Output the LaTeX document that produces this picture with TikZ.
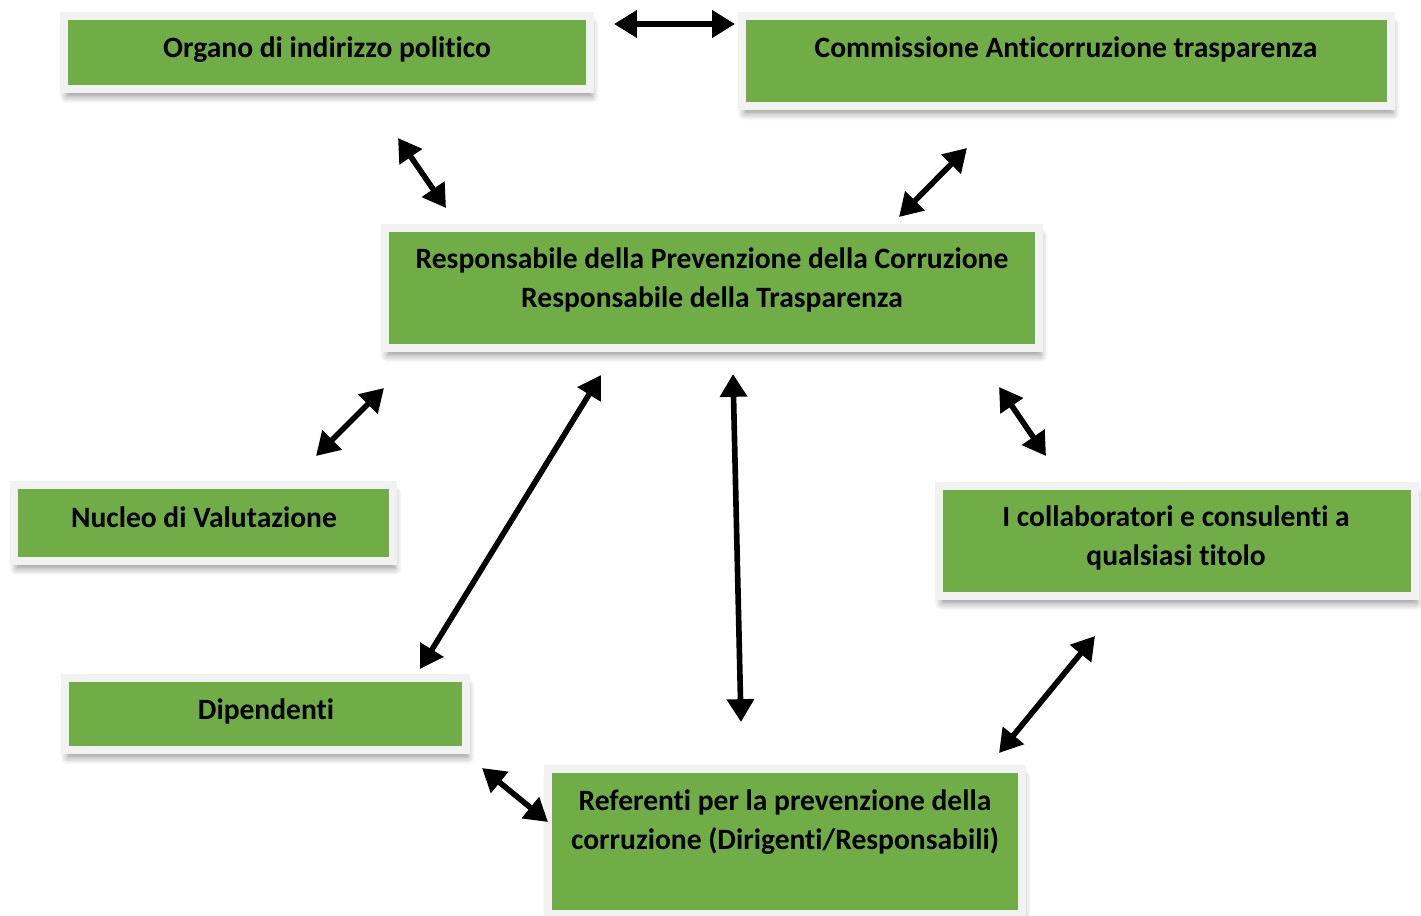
\documentclass[tikz,border=0pt]{standalone}
\usepackage{fontspec}
\setmainfont{Carlito}[Ligatures=NoCommon]
\usepackage{tikz}
\usetikzlibrary{arrows.meta,shadows.blur}
\definecolor{boxgreen}{HTML}{70AD47}
\definecolor{boxframe}{HTML}{F2F2F2}

\begin{document}
\begin{tikzpicture}[
    box/.style={rectangle,fill=boxgreen,draw=boxframe,line width=2.3pt,
      blur shadow={shadow xshift=0.6pt,shadow yshift=-2.2pt,shadow blur steps=6,shadow opacity=40}},
    lbl/.style={align=center,font=\fontsize{8.4}{11.2}\selectfont\bfseries,inner sep=0pt},
    link/.style={{Triangle[length=6.5pt,width=7.5pt]}-{Triangle[length=6.5pt,width=7.5pt]},line width=1.6pt}
  ]
  \useasboundingbox (0,0) rectangle (14.21,-9.15);

  % boxes
  \node[box,minimum width=5.26cm,minimum height=0.73cm] (organo) at (3.27,-0.525) {};
  \node[box,minimum width=6.49cm,minimum height=0.90cm] (commissione) at (10.665,-0.61) {};
  \node[box,minimum width=6.54cm,minimum height=1.20cm] (rpc) at (7.12,-2.88) {};
  \node[box,minimum width=3.79cm,minimum height=0.76cm] (nucleo) at (2.035,-5.23) {};
  \node[box,minimum width=4.76cm,minimum height=1.10cm] (collab) at (11.77,-5.41) {};
  \node[box,minimum width=4.01cm,minimum height=0.72cm] (dipendenti) at (2.655,-7.14) {};
  \node[box,minimum width=4.74cm,minimum height=1.45cm] (referenti) at (7.85,-8.415) {};

  % texts
  \node[lbl] (torgano) at (3.27,-0.50) {Organo di indirizzo politico};
  \node[lbl] (tcommissione) at (10.66,-0.49) {Commissione Anticorruzione trasparenza};
  \node[lbl] (trpc) at (7.12,-2.80) {Responsabile della Prevenzione della Corruzione\\Responsabile della Trasparenza};
  \node[lbl] (tnucleo) at (2.04,-5.17) {Nucleo di Valutazione};
  \node[lbl] (tcollab) at (11.76,-5.38) {I collaboratori e consulenti a\\qualsiasi titolo};
  \node[lbl] (tdipendenti) at (2.66,-7.11) {Dipendenti};
  \node[lbl] (treferenti) at (7.85,-8.22) {Referenti per la prevenzione della\\corruzione (Dirigenti/Responsabili)};

  % arrow ends
  \coordinate (a1) at (6.14,-0.24);   \coordinate (a2) at (7.35,-0.24);
  \coordinate (b1) at (3.98,-1.38);   \coordinate (b2) at (4.46,-2.08);
  \coordinate (c1) at (9.67,-1.48);   \coordinate (c2) at (8.99,-2.17);
  \coordinate (d1) at (3.84,-3.88);   \coordinate (d2) at (3.16,-4.56);
  \coordinate (e1) at (6.01,-3.75);   \coordinate (e2) at (4.20,-6.69);
  \coordinate (f1) at (7.33,-3.74);   \coordinate (f2) at (7.41,-7.22);
  \coordinate (g1) at (9.99,-3.87);   \coordinate (g2) at (10.46,-4.56);
  \coordinate (h1) at (10.95,-6.36);  \coordinate (h2) at (9.99,-7.53);
  \coordinate (i1) at (4.82,-7.68);   \coordinate (i2) at (5.48,-8.22);

  \foreach \s/\t in {a1/a2,b1/b2,c1/c2,d1/d2,e1/e2,f1/f2,g1/g2,h1/h2,i1/i2}
    \draw[link] (\s) -- (\t);
\end{tikzpicture}
\end{document}
